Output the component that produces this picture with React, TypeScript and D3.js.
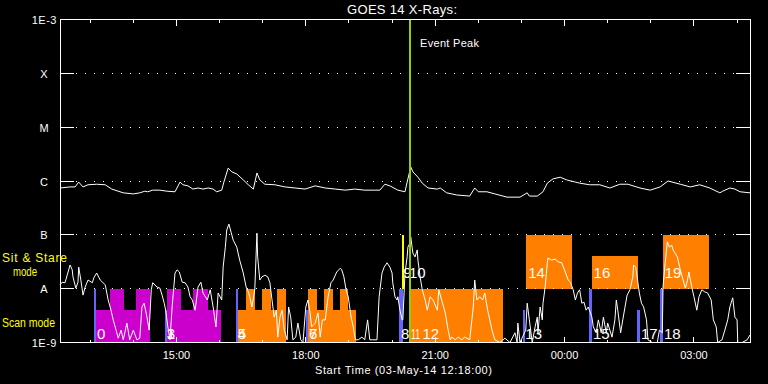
import React from 'react';
import * as d3 from 'd3';

// ---------- data ----------
const startTime = new Date('2014-05-03T12:18:00Z');
const spanMinutes = 960;
const title = 'GOES 14 X-Rays:';
const xAxisTitle = 'Start Time (03-May-14 12:18:00)';

const levelNames = ['1E-9', 'A', 'B', 'C', 'M', 'X', '1E-3'];
const levelFlux = [1e-9, 1e-8, 1e-7, 1e-6, 1e-5, 1e-4, 1e-3];
const majorTickLabels = ['15:00', '18:00', '21:00', '00:00', '03:00'];

// GOES long channel (1-8 A): [minutes since start, log10 flux W/m^2]
const longChannel: [number, number][] = [
  [0, -6.13], [14, -6.11], [21, -6.11], [26, -6.02], [32, -6.11], [39, -6.07], [51, -6.06], [63, -6.07],
  [72, -6.15], [88, -6.22], [102, -6.24], [111, -6.22], [118, -6.19], [122, -6.2], [129, -6.17], [139, -6.17],
  [149, -6.19], [160, -6.2], [167, -6.02], [171, -6.07], [178, -6.09], [185, -6.15], [192, -6.13], [199, -6.15],
  [206, -6.13], [213, -6.15], [218, -6.2], [225, -6.17], [228, -6.02], [234, -5.76], [239, -5.83], [246, -5.87],
  [255, -5.98], [262, -6.07], [269, -6.15], [274, -5.85], [278, -5.98], [285, -6.06], [299, -6.07], [313, -6.11],
  [327, -6.13], [341, -6.15], [355, -6.09], [369, -6.13], [383, -6.15], [397, -6.17], [410, -6.15], [424, -6.17],
  [438, -6.17], [445, -6.17], [452, -6.06], [459, -6.09], [470, -6.17], [480, -6.2], [483, -6.02], [488, -5.74],
  [491, -5.83], [498, -5.93], [504, -6.04], [512, -6.13], [525, -6.15], [529, -6.13], [538, -6.22], [552, -6.26],
  [570, -6.28], [577, -6.13], [582, -6.2], [594, -6.2], [605, -6.24], [622, -6.3], [640, -6.3], [650, -6.22],
  [653, -6.28], [664, -6.28], [672, -6.2], [678, -6.04], [686, -5.96], [696, -5.93], [705, -5.98], [717, -6.02],
  [723, -6.04], [737, -6.07], [751, -6.07], [765, -6.13], [779, -6.06], [790, -6.06], [807, -6.13], [821, -6.17],
  [835, -6.11], [846, -6.0], [863, -6.06], [877, -6.11], [890, -6.07], [904, -6.13], [918, -6.22], [922, -6.19],
  [932, -6.13], [939, -6.15], [946, -6.2], [960, -6.22],
];

// GOES short channel (0.5-4 A): [minutes since start, log10 flux W/m^2]
const shortChannel: [number, number][] = [
  [0, -7.93], [3, -7.88], [7, -7.89], [14, -7.56], [17, -7.65], [18, -7.78], [22, -7.99], [25, -7.88],
  [26, -7.6], [29, -7.84], [32, -8.12], [35, -7.97], [39, -7.84], [45, -7.89], [47, -7.8], [51, -7.71],
  [56, -7.84], [63, -7.93], [67, -8.21], [71, -8.4], [74, -8.58], [78, -8.77], [81, -8.92], [85, -8.77],
  [88, -8.95], [93, -8.64], [97, -8.95], [102, -8.77], [107, -8.95], [111, -8.92], [114, -8.34], [117, -8.27],
  [121, -8.53], [124, -8.77], [127, -8.02], [129, -7.89], [135, -7.97], [139, -7.99], [142, -8.12], [145, -8.27],
  [147, -8.4], [150, -8.71], [153, -8.95], [156, -8.34], [160, -7.71], [163, -7.65], [166, -7.69], [170, -7.88],
  [174, -7.89], [178, -7.97], [181, -8.15], [184, -8.21], [188, -8.4], [192, -7.97], [196, -7.88], [199, -8.08],
  [205, -8.21], [209, -8.02], [213, -8.34], [217, -8.71], [220, -8.08], [225, -8.21], [227, -7.6], [230, -7.23],
  [232, -6.91], [235, -6.8], [238, -6.95], [241, -7.1], [246, -7.23], [250, -7.47], [255, -7.71], [259, -7.97],
  [262, -8.06], [264, -8.15], [267, -8.34], [271, -8.02], [274, -6.97], [275, -7.41], [278, -7.84], [281, -7.78],
  [285, -7.75], [289, -7.78], [292, -7.89], [295, -8.21], [298, -8.53], [301, -8.4], [303, -8.9], [306, -8.53],
  [309, -8.4], [312, -8.77], [316, -8.95], [318, -8.34], [321, -8.53], [324, -8.95], [328, -8.9], [331, -8.64],
  [335, -8.95], [338, -9.05], [342, -8.34], [345, -8.21], [348, -8.45], [350, -8.71], [355, -8.64], [359, -8.45],
  [362, -8.9], [365, -8.58], [369, -8.58], [373, -8.15], [377, -7.89], [380, -7.84], [385, -7.69], [390, -7.62],
  [392, -7.65], [395, -7.78], [398, -8.02], [401, -8.15], [405, -8.53], [408, -8.71], [411, -8.95], [415, -8.95],
  [420, -8.9], [424, -8.95], [428, -8.58], [431, -8.95], [435, -8.95], [441, -8.95], [444, -8.15], [448, -7.71],
  [451, -7.6], [455, -7.52], [459, -7.6], [462, -7.71], [463, -7.89], [466, -8.15], [469, -8.21], [470, -8.15],
  [473, -8.4], [476, -8.58], [477, -8.58], [480, -7.71], [483, -7.41], [484, -7.23], [487, -7.15], [488, -7.04],
  [491, -7.34], [494, -7.41], [497, -7.28], [498, -7.47], [501, -7.78], [504, -8.02], [508, -8.21], [511, -8.4],
  [515, -8.15], [519, -8.21], [525, -8.4], [527, -8.02], [531, -8.21], [536, -8.45], [540, -8.77], [543, -8.95],
  [545, -8.9], [550, -8.95], [554, -8.9], [559, -8.95], [563, -8.9], [570, -8.95], [575, -8.34], [577, -7.84],
  [580, -8.21], [584, -8.15], [588, -8.21], [591, -8.08], [595, -8.4], [598, -8.58], [601, -8.77], [605, -8.95],
  [612, -9.05], [619, -8.92], [626, -9.05], [633, -8.82], [636, -9.05], [637, -8.64], [640, -9.05], [648, -8.77],
  [650, -8.27], [653, -8.58], [657, -9.05], [661, -8.71], [664, -8.53], [665, -8.82], [668, -8.34], [671, -8.58],
  [672, -8.27], [675, -7.97], [678, -7.52], [679, -7.43], [684, -7.47], [689, -7.45], [693, -7.5], [698, -7.52],
  [703, -7.69], [707, -7.84], [710, -7.88], [714, -8.02], [717, -8.21], [720, -8.08], [723, -8.02], [726, -8.27],
  [729, -8.25], [732, -8.4], [735, -8.34], [740, -8.53], [742, -8.71], [746, -8.82], [749, -8.58], [753, -8.82],
  [756, -8.53], [760, -8.82], [762, -8.64], [768, -8.9], [772, -8.58], [774, -8.21], [776, -8.4], [780, -8.82],
  [783, -8.58], [789, -8.12], [793, -8.02], [797, -7.78], [798, -7.56], [801, -7.6], [803, -7.78], [806, -8.08],
  [809, -8.27], [812, -8.34], [816, -8.58], [818, -8.95], [824, -9.05], [831, -9.05], [834, -8.77], [838, -8.82],
  [839, -7.97], [842, -7.52], [845, -7.13], [848, -7.23], [851, -7.19], [853, -7.28], [859, -7.41], [863, -7.65],
  [867, -7.84], [870, -7.99], [873, -7.84], [875, -7.69], [879, -7.97], [882, -8.15], [886, -8.4], [889, -8.15],
  [893, -8.02], [897, -8.06], [901, -8.08], [906, -8.21], [909, -8.58], [913, -8.71], [915, -9.05], [921, -8.95],
  [925, -8.77], [929, -8.58], [932, -8.34], [935, -8.21], [936, -8.17], [939, -8.53], [942, -8.58], [943, -9.05],
  [949, -9.05], [956, -8.95], [960, -8.86],
];

// observation blocks: [start min, end min, low log-level, high log-level, program]
const obsBlocks: [number, number, number, number, string][] = [
  [50, 125, -9, -8.4, 'scanP1'], [70, 89, -9, -8, 'scanP1'], [106, 125, -9, -8, 'scanP1'],
  [149, 224, -9, -8.4, 'scanP1'], [149, 168, -9, -8, 'scanP1'], [185, 206, -9, -8, 'scanP1'],
  [248, 314, -9, -8.4, 'scanP2'], [259, 271, -9, -8, 'scanP2'], [281, 294, -9, -8, 'scanP2'], [302, 314, -9, -8, 'scanP2'],
  [345, 412, -9, -8.4, 'scanP2'], [345, 358, -9, -8, 'scanP2'], [367, 380, -9, -8, 'scanP2'], [390, 401, -9, -8, 'scanP2'],
  [488, 616, -9, -8, 'scanP2'],
  [648, 712, -8, -7, 'sitP2'], [740, 804, -8, -7.4, 'sitP2'], [839, 903, -8, -7, 'sitP2'],
];

// short observations (start markers): [start min, end min, low, high, program]
const obsMarkers: [number, number, number, number, string][] = [
  [47, 50, -9, -8, 'short'], [146, 149, -9, -8.4, 'short'], [245, 248, -9, -8, 'short'],
  [342, 345, -9, -8.4, 'short'], [472, 477, -9, -8, 'short'], [644, 647, -9, -8.4, 'short'],
  [736, 740, -9, -8, 'short'], [803, 807, -9, -8.4, 'short'], [835, 839, -9, -8, 'short'],
  [476, 478, -8, -7, 'shortSit'],
];

// observation numbers: [label, minute, row]
const obsLabels: [string, number, string][] = [
  ['0', 50, 'scan'], ['1', 147, 'scan'], ['3', 147, 'scan'], ['4', 246, 'scan'], ['5', 246, 'scan'],
  ['6', 345, 'scan'], ['7', 345, 'scan'], ['8', 473, 'scan'], ['11', 487, 'scan'], ['12', 503, 'scan'],
  ['9', 476, 'sit'], ['10', 484, 'sit'], ['13', 646, 'scan'], ['14', 650, 'sit'], ['15', 740, 'scan'],
  ['16', 741, 'sit'], ['17', 807, 'scan'], ['18', 839, 'scan'], ['19', 840, 'sit'],
];

const eventPeakMinute = 487;

// ---------- styles ----------
const W = 768, H = 384;
const plot = { left: 60, right: 750, top: 19.5, bottom: 342.5 };
const programColor: Record<string, string> = {
  scanP1: '#cc00cc', scanP2: '#ff8000', sitP2: '#ff8000', short: '#6464ff', shortSit: '#ffff00',
};
const font = 'Liberation Sans, Arial, sans-serif';

export default function App() {
  const t = (m: number) => new Date(startTime.getTime() + m * 60000);
  const x = d3.scaleUtc().domain([t(0), t(spanMinutes)]).range([plot.left, plot.right]);
  const y = d3.scaleLog().domain([1e-9, 1e-3]).range([plot.bottom, plot.top]).clamp(true);
  const yl = (l: number) => y(Math.pow(10, l));

  const line = d3.line<[number, number]>()
    .x((d) => x(t(d[0])))
    .y((d) => yl(d[1]));

  const hourTicks = x.ticks(d3.utcHour.every(1)!);
  const isMajor = (d: Date) => d.getUTCHours() % 3 === 0;
  const majorTicks = hourTicks.filter(isMajor);
  const snap = (v: number) => Math.round(v - 0.5) + 0.5;

  return (
    <div style={{ position: 'absolute', left: 0, top: 0, width: W, height: H, background: '#000' }}>
      <svg width={W} height={H} style={{ display: 'block', background: '#000' }} fontFamily={font}>
        <rect x={0} y={0} width={W} height={H} fill="#000" />
        {/* bars */}
        {obsBlocks.map((b, i) => (
          <rect key={'b' + i} x={x(t(b[0]))} width={x(t(b[1])) - x(t(b[0]))}
            y={yl(b[3])} height={yl(b[2]) - yl(b[3])} fill={programColor[b[4]]} shapeRendering="crispEdges" />
        ))}
        {obsMarkers.map((b, i) => (
          <rect key={'m' + i} x={x(t(b[0]))} width={Math.max(2, x(t(b[1])) - x(t(b[0])))}
            y={yl(b[3])} height={yl(b[2]) - yl(b[3])} fill={programColor[b[4]]} shapeRendering="crispEdges" />
        ))}
        {/* grid dotted lines */}
        {levelFlux.slice(1, 6).map((v, i) => (
          <line key={'g' + i} x1={plot.left + 16} x2={plot.right - 14} y1={snap(y(v))} y2={snap(y(v))}
            stroke="#fff" strokeWidth={1} strokeDasharray="1,8" shapeRendering="crispEdges" />
        ))}
        {/* curves */}
        <path d={line(shortChannel) || ''} fill="none" stroke="#fff" strokeWidth={1} />
        <path d={line(longChannel) || ''} fill="none" stroke="#fff" strokeWidth={1} />
        {/* labels */}
        {obsLabels.map((l, i) => (
          <text key={'l' + i} x={x(t(l[1])) + 1} y={l[2] === 'scan' ? 339 : 278} fill="#fff" fontSize={15}
            textLength={l[0] === '11' ? 9 : undefined} lengthAdjust="spacingAndGlyphs">{l[0]}</text>
        ))}
        {/* event peak */}
        <rect x={x(t(eventPeakMinute)) - 1} width={2} y={plot.top} height={plot.bottom - plot.top} fill="#9acd00" shapeRendering="crispEdges" />
        <text x={x(t(eventPeakMinute)) + 10} y={47} fill="#fff" fontSize={11} textLength={59} lengthAdjust="spacing">Event Peak</text>
        {/* axes frame */}
        <rect x={plot.left + 0.5} y={plot.top} width={plot.right - plot.left - 0.5} height={plot.bottom - plot.top}
          fill="none" stroke="#fff" strokeWidth={1} shapeRendering="crispEdges" />
        {/* y ticks */}
        {levelFlux.slice(1, 6).map((v, i) => (
          <g key={'yt' + i}>
            <line x1={plot.left} x2={plot.left + 14} y1={snap(y(v))} y2={snap(y(v))} stroke="#fff" shapeRendering="crispEdges" />
            <line x1={plot.right - 14} x2={plot.right} y1={snap(y(v))} y2={snap(y(v))} stroke="#fff" shapeRendering="crispEdges" />
          </g>
        ))}
        {levelFlux.map((v, i) => {
          const name = levelNames[i];
          const isNum = name.length > 1;
          return (
            <text key={'yl' + i} x={isNum ? 57 : 44} y={snap(y(v)) + 4} textAnchor={isNum ? 'end' : 'middle'}
              fill="#fff" fontSize={11} letterSpacing={isNum ? 0.5 : 0}>{name}</text>
          );
        })}
        {/* x ticks */}
        {hourTicks.map((d, i) => {
          const xx = snap(x(d));
          const len = isMajor(d) ? 6 : 3;
          return (
            <g key={'xt' + i}>
              <line x1={xx} x2={xx} y1={plot.top} y2={plot.top + len} stroke="#fff" shapeRendering="crispEdges" />
              <line x1={xx} x2={xx} y1={plot.bottom} y2={plot.bottom - len} stroke="#fff" shapeRendering="crispEdges" />
            </g>
          );
        })}
        {majorTicks.map((d, i) => (
          <text key={'xl' + i} x={x(d)} y={359} textAnchor="middle" fill="#fff" fontSize={11}>{majorTickLabels[i]}</text>
        ))}
        <text x={315} y={374} fill="#fff" fontSize={11} textLength={177} lengthAdjust="spacing">{xAxisTitle}</text>
        <text x={347} y={14} fill="#fff" fontSize={13} textLength={110} lengthAdjust="spacing">{title}</text>
        {/* mode labels */}
        <text x={2} y={262} fill="#ffff00" fontSize={12} textLength={65} lengthAdjust="spacing">Sit &amp; Stare</text>
        <text x={13} y={276} fill="#ffff00" fontSize={12} textLength={24} lengthAdjust="spacingAndGlyphs">mode</text>
        <text x={2} y={327} fill="#ffff00" fontSize={12} textLength={53} lengthAdjust="spacingAndGlyphs">Scan mode</text>
      </svg>
    </div>
  );
}
